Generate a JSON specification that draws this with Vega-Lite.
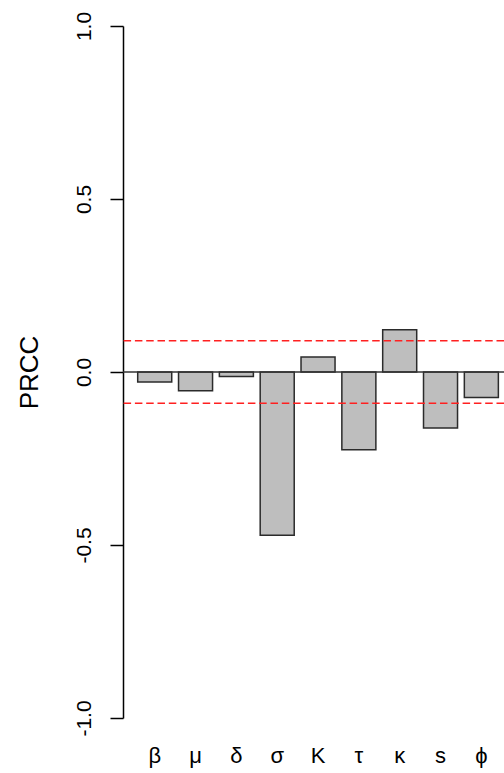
{
  "$schema": "https://vega.github.io/schema/vega-lite/v6.json",
  "width": 381,
  "height": 692,
  "autosize": "none",
  "padding": {"left": 123, "top": 26, "right": 0, "bottom": 55},
  "background": "white",
  "config": {
    "view": {"stroke": null},
    "font": "Liberation Sans",
    "axis": {"grid": false}
  },
  "datasets": {
    "prcc": [
      {"param": "β", "prcc": -0.029},
      {"param": "μ", "prcc": -0.054},
      {"param": "δ", "prcc": -0.013},
      {"param": "σ", "prcc": -0.472},
      {"param": "K", "prcc": 0.043},
      {"param": "τ", "prcc": -0.225},
      {"param": "κ", "prcc": 0.122},
      {"param": "s", "prcc": -0.162},
      {"param": "ϕ", "prcc": -0.074}
    ],
    "thresholds": [
      {"level": 0.09},
      {"level": -0.09}
    ]
  },
  "layer": [
    {
      "data": {"name": "prcc"},
      "mark": {"type": "bar", "fill": "#bebebe", "stroke": "#2b2b2b", "strokeWidth": 1.5},
      "encoding": {
        "x": {
          "field": "param",
          "type": "nominal",
          "sort": null,
          "scale": {"paddingInner": 0.1667, "paddingOuter": 0.249, "align": 0.723},
          "axis": {
            "title": null,
            "domain": false,
            "ticks": false,
            "labelAngle": 0,
            "labelFontSize": 22,
            "labelColor": "#000000",
            "labelBaseline": "top",
            "labelPadding": 27,
            "labelFont": "Liberation Sans"
          }
        },
        "y": {
          "field": "prcc",
          "type": "quantitative",
          "scale": {"domain": [-1, 1], "nice": false, "zero": false},
          "axis": {
            "title": "PRCC",
            "values": [-1, -0.5, 0, 0.5, 1],
            "labelExpr": "replace(format(datum.value, '.1f'), '\u2212', '-')",
            "domainColor": "#000000",
            "domainWidth": 1.5,
            "tickColor": "#000000",
            "tickWidth": 1.5,
            "tickSize": 13,
            "labelAngle": -90,
            "labelAlign": "center",
            "labelBaseline": "alphabetic",
            "labelPadding": 20,
            "labelFontSize": 21,
            "labelColor": "#000000",
            "titleFontSize": 26,
            "titleFontWeight": "normal",
            "titleColor": "#000000",
            "titleAngle": -90,
            "titleAlign": "center",
            "titleBaseline": "alphabetic",
            "titleX": -86,
            "titleY": 346
          }
        }
      }
    },
    {
      "data": {"values": [{"level": 0}]},
      "mark": {"type": "rule", "color": "#333333", "strokeWidth": 1.5},
      "encoding": {"y": {"field": "level", "type": "quantitative"}}
    },
    {
      "data": {"name": "thresholds"},
      "mark": {"type": "rule", "color": "#ff2020", "strokeWidth": 1.5, "strokeDash": [7.5, 3.8]},
      "encoding": {"y": {"field": "level", "type": "quantitative"}}
    }
  ]
}
